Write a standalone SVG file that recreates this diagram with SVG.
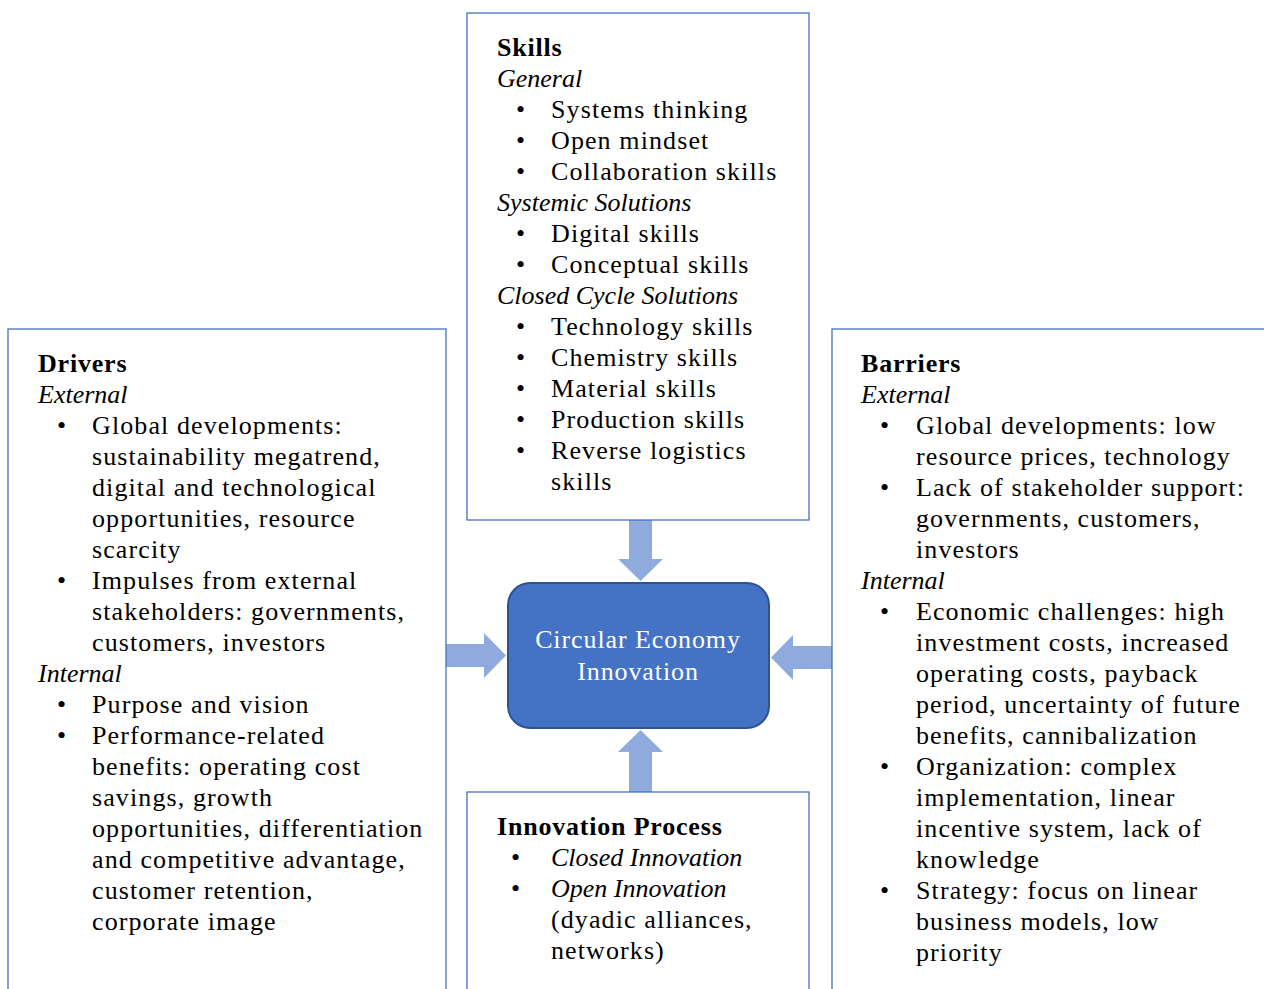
<svg xmlns="http://www.w3.org/2000/svg" width="1264" height="989" viewBox="0 0 1264 989">
<style>
.box{fill:#fff;stroke:#4472C4;stroke-width:1.3}
.t{font-family:"Liberation Serif","Times New Roman",serif;font-size:26px;letter-spacing:1.1px;fill:#000}
.b{font-weight:bold;letter-spacing:0.8px}
.i{font-style:italic;letter-spacing:0px}
.arr{fill:#8FAADC}
.ctr{fill:#4472C4;stroke:#2F528F;stroke-width:2}
.w{fill:#fff;text-anchor:middle;letter-spacing:0.9px}
</style>
<rect width="1264" height="989" fill="#fff"/>
<g id="connectors">
<polygon class="arr" points="629,520 652,520 652,559 663,559 640.5,581 618,559 629,559"/>
<polygon class="arr" points="640.5,730 663,752 652,752 652,792 629,792 629,752 618,752"/>
<polygon class="arr" points="446,644 484,644 484,633 506,655.5 484,678 484,667 446,667"/>
<polygon class="arr" points="771,657.5 793,635 793,646 832,646 832,669 793,669 793,680"/>
</g>
<g id="skills">
<rect class="box" x="467" y="13" width="342" height="507"/>
<text class="t b" x="497" y="56">Skills</text>
<text class="t i" x="497" y="87">General</text>
<text class="t" x="516" y="118">•</text><text class="t" x="551" y="118">Systems thinking</text>
<text class="t" x="516" y="149">•</text><text class="t" x="551" y="149">Open mindset</text>
<text class="t" x="516" y="180">•</text><text class="t" x="551" y="180">Collaboration skills</text>
<text class="t i" x="497" y="211">Systemic Solutions</text>
<text class="t" x="516" y="242">•</text><text class="t" x="551" y="242">Digital skills</text>
<text class="t" x="516" y="273">•</text><text class="t" x="551" y="273">Conceptual skills</text>
<text class="t i" x="497" y="304">Closed Cycle Solutions</text>
<text class="t" x="516" y="335">•</text><text class="t" x="551" y="335">Technology skills</text>
<text class="t" x="516" y="366">•</text><text class="t" x="551" y="366">Chemistry skills</text>
<text class="t" x="516" y="397">•</text><text class="t" x="551" y="397">Material skills</text>
<text class="t" x="516" y="428">•</text><text class="t" x="551" y="428">Production skills</text>
<text class="t" x="516" y="459">•</text><text class="t" x="551" y="459">Reverse logistics</text>
<text class="t" x="551" y="490">skills</text>
</g>
<g id="drivers">
<rect class="box" x="8" y="329" width="438" height="680"/>
<text class="t b" x="38" y="372">Drivers</text>
<text class="t i" x="38" y="403">External</text>
<text class="t" x="57" y="434">•</text><text class="t" x="92" y="434">Global developments:</text>
<text class="t" x="92" y="465">sustainability megatrend,</text>
<text class="t" x="92" y="496">digital and technological</text>
<text class="t" x="92" y="527">opportunities, resource</text>
<text class="t" x="92" y="558">scarcity</text>
<text class="t" x="57" y="589">•</text><text class="t" x="92" y="589">Impulses from external</text>
<text class="t" x="92" y="620">stakeholders: governments,</text>
<text class="t" x="92" y="651">customers, investors</text>
<text class="t i" x="38" y="682">Internal</text>
<text class="t" x="57" y="713">•</text><text class="t" x="92" y="713">Purpose and vision</text>
<text class="t" x="57" y="744">•</text><text class="t" x="92" y="744">Performance-related</text>
<text class="t" x="92" y="775">benefits: operating cost</text>
<text class="t" x="92" y="806">savings, growth</text>
<text class="t" x="92" y="837">opportunities, differentiation</text>
<text class="t" x="92" y="868">and competitive advantage,</text>
<text class="t" x="92" y="899">customer retention,</text>
<text class="t" x="92" y="930">corporate image</text>
</g>
<g id="barriers">
<rect class="box" x="832" y="329" width="450" height="680"/>
<text class="t b" x="861" y="372">Barriers</text>
<text class="t i" x="861" y="403">External</text>
<text class="t" x="880" y="434">•</text><text class="t" x="916" y="434">Global developments: low</text>
<text class="t" x="916" y="465">resource prices, technology</text>
<text class="t" x="880" y="496">•</text><text class="t" x="916" y="496">Lack of stakeholder support:</text>
<text class="t" x="916" y="527">governments, customers,</text>
<text class="t" x="916" y="558">investors</text>
<text class="t i" x="861" y="589">Internal</text>
<text class="t" x="880" y="620">•</text><text class="t" x="916" y="620">Economic challenges: high</text>
<text class="t" x="916" y="651">investment costs, increased</text>
<text class="t" x="916" y="682">operating costs, payback</text>
<text class="t" x="916" y="713">period, uncertainty of future</text>
<text class="t" x="916" y="744">benefits, cannibalization</text>
<text class="t" x="880" y="775">•</text><text class="t" x="916" y="775">Organization: complex</text>
<text class="t" x="916" y="806">implementation, linear</text>
<text class="t" x="916" y="837">incentive system, lack of</text>
<text class="t" x="916" y="868">knowledge</text>
<text class="t" x="880" y="899">•</text><text class="t" x="916" y="899">Strategy: focus on linear</text>
<text class="t" x="916" y="930">business models, low</text>
<text class="t" x="916" y="961">priority</text>
</g>
<g id="innovation-process">
<rect class="box" x="467" y="792" width="342" height="217"/>
<text class="t b" x="497" y="835">Innovation Process</text>
<text class="t" x="511" y="866">•</text><text class="t i" x="551" y="866">Closed Innovation</text>
<text class="t" x="511" y="897">•</text><text class="t i" x="551" y="897">Open Innovation</text>
<text class="t" x="551" y="928">(dyadic alliances,</text>
<text class="t" x="551" y="959">networks)</text>
</g>
<g id="center">
<rect class="ctr" x="508" y="583" width="261" height="145" rx="22"/>
<text class="t w" x="638" y="648">Circular Economy</text>
<text class="t w" x="638" y="680">Innovation</text>
</g>
</svg>
